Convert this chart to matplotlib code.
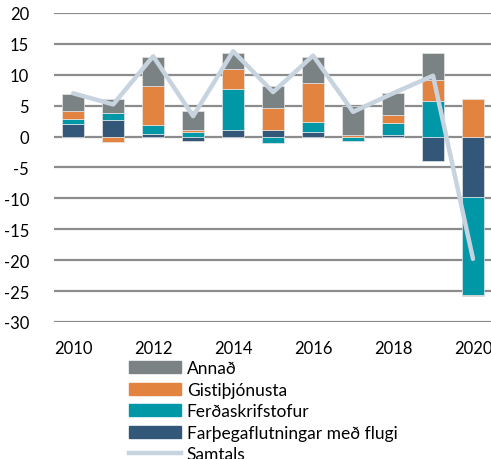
import numpy as np
import matplotlib
matplotlib.use("Agg")
import matplotlib.pyplot as plt
from matplotlib.patches import Patch
from matplotlib.lines import Line2D

plt.rcParams['font.family'] = ['Lato', 'DejaVu Sans']
plt.rcParams['axes.unicode_minus'] = False

years = [2010, 2011, 2012, 2013, 2014, 2015, 2016, 2017, 2018, 2019, 2020]
flug = [2.1, 2.6, 0.4, -0.65, 1.0, 1.1, 0.75, 0.0, 0.3, -3.9, -9.8]
ferdaskrif = [0.75, 1.15, 1.5, 0.75, 6.75, -1.0, 1.65, -0.75, 1.9, 5.8, -15.8]
gisti = [1.35, -0.9, 6.35, 0.3, 3.15, 3.5, 6.3, 0.2, 1.3, 3.3, 6.1]
annad = [2.7, 2.25, 4.55, 3.05, 2.7, 3.65, 4.2, 4.8, 3.5, 4.5, -0.25]
samtals = [7.0, 5.2, 13.0, 3.3, 13.8, 7.2, 13.1, 4.0, 7.0, 9.85, -19.8]

labels = ['Farþegaflutningar með flugi', 'Ferðaskrifstofur', 'Gistiþjónusta', 'Annað']
colors = ['#335779', '#0097a7', '#e2843f', '#7b8283']
line_color = '#c7d4df'

fig = plt.figure(figsize=(4.91, 4.60), dpi=100)
ax = fig.add_axes([0.11, 0.298, 0.89, 0.6716])

x = np.arange(len(years))
pos = np.zeros(len(years))
neg = np.zeros(len(years))
for vals, c in zip([flug, ferdaskrif, gisti, annad], colors):
    v = np.array(vals)
    bottom = np.where(v >= 0, pos, neg)
    ax.bar(x, v, width=0.55, bottom=bottom, color=c, edgecolor='#e6e6e6',
           linewidth=0.5, zorder=3)
    pos = pos + np.where(v >= 0, v, 0)
    neg = neg + np.where(v < 0, v, 0)

ax.plot(x, samtals, color=line_color, lw=3.2, zorder=4, solid_capstyle='round')

ax.set_ylim(-30, 20)
ax.set_yticks(range(-30, 21, 5))
ax.set_xlim(-0.48, 10.45)
ax.set_xticks(x[::2])
ax.set_xticklabels([str(y) for y in years[::2]])
ax.yaxis.grid(True, color='#8c8c8c', lw=1.6, zorder=0)
ax.set_axisbelow(True)
for s in ax.spines.values():
    s.set_visible(False)
ax.tick_params(axis='both', length=0, labelsize=12, colors='black')
ax.tick_params(axis='y', pad=18)
ax.tick_params(axis='x', pad=13)

handles = [Patch(color=colors[3]), Patch(color=colors[2]),
           Patch(color=colors[1]), Patch(color=colors[0]),
           Line2D([], [], color=line_color, lw=3.2)]
names = ['Annað', 'Gistiþjónusta', 'Ferðaskrifstofur',
         'Farþegaflutningar með flugi', 'Samtals']
fig.legend(handles, names, loc='upper left', bbox_to_anchor=(0.262, 0.215),
           frameon=False, fontsize=12.5, handlelength=3.0, handleheight=0.7,
           handletextpad=0.35, labelspacing=0.32, borderpad=0, borderaxespad=0)

fig.savefig('out.png', dpi=100)
